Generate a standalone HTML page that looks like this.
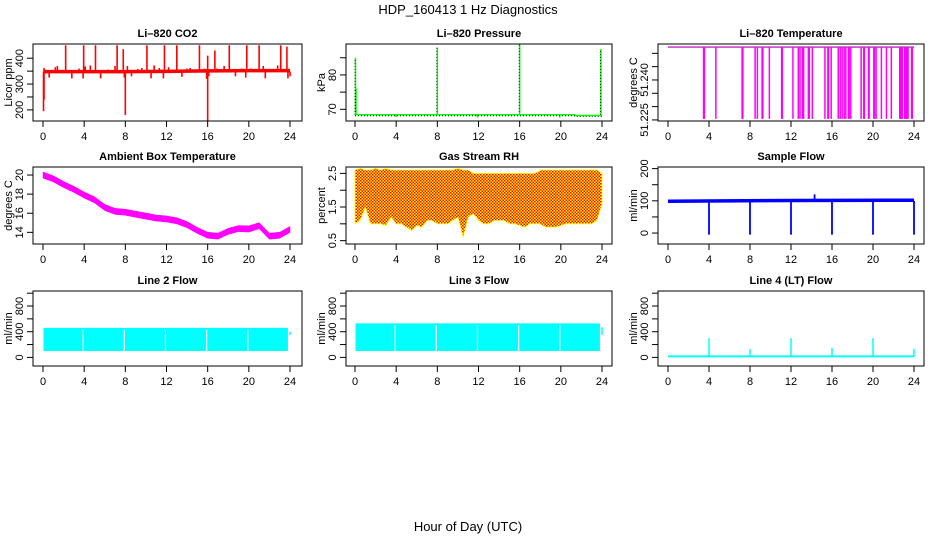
<!DOCTYPE html>
<html><head><meta charset="utf-8"><style>
html,body{margin:0;padding:0;background:#fff;}
svg{display:block;font-family:"Liberation Sans",Arial,sans-serif;}
</style></head><body>
<svg id="c" width="936" height="540" viewBox="0 0 936 540">
<text x="468" y="14" font-size="13" text-anchor="middle">HDP_160413  1 Hz Diagnostics</text>
<text x="468" y="531" font-size="13" text-anchor="middle">Hour of Day (UTC)</text>
</svg>
<script>
// ---- data ----
const xTicks = [0,4,8,12,16,20,24];
// CO2
const co2BaseHours = [0.05,4,8,12,16,20,24];
const co2BaseVals = [348,348,348,349,351,352,352];
const co2Spikes = [[0.05,195],[0.1,240],[0.1,362],[0.6,325],[1.2,365],[1.4,370],[2.2,450],[2.8,322],[3.5,360],[3.95,450],[3.9,322],[4.1,368],[4.6,372],[5.1,450],[5.6,322],[6.3,356],[7.0,370],[7.2,450],[7.8,435],[7.9,325],[8.0,180],[8.2,370],[8.6,330],[9.2,358],[9.6,362],[10.1,450],[10.5,322],[10.8,372],[11.3,362],[11.8,450],[11.7,322],[12.2,365],[13.0,450],[13.5,328],[14.0,360],[14.3,362],[15.2,450],[15.7,360],[16.0,410],[16.0,157],[15.9,320],[16.1,330],[16.7,430],[16.9,360],[17.6,370],[18.1,450],[18.7,330],[19.3,360],[19.8,450],[19.7,325],[20.2,360],[21.0,450],[21.4,370],[21.6,322],[22.1,358],[22.8,372],[23.1,450],[23.7,445],[23.8,322],[24.0,330]];
// Pressure
const presBaseHours = [0,12,21.3,21.4,24];
const presBaseVals = [68.4,68.4,68.4,68.2,68.2];
const presSpikes = [[0.05,85],[0.1,76],[8.0,88],[16.0,89],[23.9,87.6],[4,67.8],[11.9,67.6],[19.9,67.6]];
// Li-820 temperature
const tempTop = 51.2523;
const tempDrops = [3.47,3.55,4.67,7.23,7.3,8.50,8.72,9.18,9.25,9.89,11.09,11.15,12.19,12.71,12.88,13.10,13.23,13.69,13.78,14.08,15.31,15.60,15.66,15.92,16.61,16.80,16.99,17.19,17.35,17.61,17.68,17.84,18.84,19.10,19.16,19.56,19.62,20.08,20.14,20.30,20.82,21.31,21.79,22.61,22.68,22.77,22.86,23.09,23.15,23.25,23.35,23.42,23.77,23.83];
const tempBottom = 51.2254;
// Ambient
const ambHours = [0,1,2,3,4,5,6,7,8,9,10,11,12,13,14,15,16,17,18,19,20,21,22,23,24];
const ambVals = [20.0,19.6,19.0,18.5,17.9,17.4,16.6,16.2,16.1,15.9,15.7,15.5,15.4,15.2,14.8,14.2,13.7,13.6,14.1,14.4,14.35,14.7,13.6,13.7,14.3];
// RH
const rhHours = [0,0.5,1,1.5,2,2.5,3,3.5,4,4.5,5,5.5,6,6.5,7,7.5,8,8.5,9,9.5,10,10.5,11,11.5,12,12.5,13,13.5,14,14.5,15,15.5,16,16.5,17,17.5,18,18.5,19,19.5,20,20.5,21,21.5,22,22.5,23,23.5,24];
const rhLow = [1.0,1.1,1.5,1.0,1.0,1.0,0.95,1.2,1.0,1.0,0.9,0.8,0.95,0.9,1.1,1.1,1.0,1.0,1.0,1.1,1.2,0.6,1.2,1.3,1.1,1.0,1.0,1.1,1.1,1.1,1.0,1.0,0.95,0.9,1.0,1.0,1.0,0.9,0.9,0.9,0.95,1.0,1.0,1.0,1.0,1.0,1.0,1.1,1.6];
const rhHigh = [2.6,2.65,2.6,2.6,2.65,2.6,2.65,2.6,2.6,2.6,2.6,2.6,2.6,2.6,2.6,2.6,2.6,2.6,2.6,2.6,2.65,2.6,2.6,2.5,2.5,2.5,2.5,2.5,2.5,2.5,2.5,2.5,2.5,2.5,2.5,2.5,2.6,2.6,2.6,2.6,2.6,2.6,2.6,2.6,2.6,2.6,2.6,2.6,2.5];
// Sample flow
const sfBaseHours = [0,12,24];
const sfBaseVals = [99,101,102];
const sfSpikes = [[4,-5],[8,-5],[12,-5],[16,-5],[20,-5],[24,-5],[14.3,120]];
// Line flows
const l2Low = 100, l2High = 460;
const l2Gaps = [3.9,7.9,11.9,15.9,19.9];
const l3Low = 100, l3High = 530;
const l3Gaps = [3.9,7.9,11.9,15.9,19.9];
const l4Base = 15;
const l4Spikes = [[4,300],[8,130],[12,300],[16,150],[20,300],[24,130]];

const NS = "http://www.w3.org/2000/svg";
const svg = document.getElementById('c');
function mk(tag, attrs, parent){ const e=document.createElementNS(NS,tag); for(const k in attrs) e.setAttribute(k,attrs[k]); (parent||svg).appendChild(e); return e; }

function panel(p){
  const g = mk('g',{});
  
  
  const X = h => p.x0 + (h/24)*(p.x24-p.x0);
  const Y = v => p.b - (v-p.ymin)/(p.ymax-p.ymin)*(p.b-p.t);
  p.draw(g, X, Y);
  const box = mk('rect',{x:p.l,y:p.t,width:p.r-p.l,height:p.b-p.t,fill:'none',stroke:'#000','stroke-width':1},g);
  
  
  const ttl = mk('text',{x:(p.l+p.r)/2,y:p.t-7,'font-size':11,'font-weight':'bold','text-anchor':'middle'},g);
  ttl.textContent = p.title;
  
  
  const xa = mk('g',{},g);
  
  
  xTicks.forEach(h=>{
    mk('line',{x1:X(h),x2:X(h),y1:p.b,y2:p.b+6,stroke:'#000'},xa);
    const t=mk('text',{x:X(h),y:p.b+19,'font-size':11,'text-anchor':'middle'},xa);
    t.textContent=h;
    
    
  });
  const ya = mk('g',{},g);
  
  
  p.yticks.forEach(v=>{
    mk('line',{x1:p.l-6,x2:p.l,y1:Y(v),y2:Y(v),stroke:'#000'},ya);
  });
  p.ylabels.forEach(v=>{
    const t=mk('text',{x:0,y:0,'font-size':11,'text-anchor':'middle',transform:`translate(${p.l-10},${Y(v)}) rotate(-90)`},ya);
    t.textContent = p.fmt? p.fmt(v): v;
    
    
  });
  const yt=mk('text',{x:0,y:0,'font-size':11,'text-anchor':'middle',transform:`translate(${p.l-21},${(p.t+p.b)/2}) rotate(-90)`},g);
  yt.textContent=p.ytitle;
  
  
}
function linePath(hs, vs, X, Y){ return hs.map((h,i)=>(i?'L':'M')+X(h).toFixed(1)+' '+Y(vs[i]).toFixed(1)).join(' '); }

const C1={l:33,r:302,x0:43,x24:290}, C2={l:346,r:612,x0:355,x24:602}, C3={l:658,r:924,x0:668,x24:914};
const R1={t:44,b:121}, R2={t:167,b:244}, R3={t:291,b:366};
function range(a,b,s){const o=[];for(let v=a;v<=b+1e-9;v+=s)o.push(+v.toFixed(4));return o;}

panel(Object.assign({name:'co2-panel',title:'Li\u2013820 CO2',ytitle:'Licor ppm',ymin:157,ymax:455,yticks:range(200,400,50),ylabels:[200,300,400],
 draw(g,X,Y){
  co2Spikes.forEach(s=>{const e=mk('line',{x1:X(s[0]),x2:X(s[0]),y1:Y(348),y2:Y(s[1]),stroke:'#f00','stroke-width':1.6},g);
   });
  const e=mk('path',{d:linePath(co2BaseHours,co2BaseVals,X,Y),stroke:'#f00','stroke-width':3.5,fill:'none'},g);
  
 }},C1,R1));

panel(Object.assign({name:'pressure-panel',title:'Li\u2013820 Pressure',ytitle:'kPa',ymin:66.6,ymax:89,yticks:[70,75,80,85],ylabels:[70,80],
 draw(g,X,Y){
  presSpikes.forEach(s=>{const e=mk('line',{x1:X(s[0]),x2:X(s[0]),y1:Y(68.4),y2:Y(s[1]),stroke:'#0f0','stroke-width':1.5},g);
   
   mk('line',{x1:X(s[0])-0.5,x2:X(s[0])-0.5,y1:Y(68.4),y2:Y(s[1]),stroke:'#000','stroke-width':0.8,'stroke-dasharray':'1 2'},g);});
  const e=mk('path',{d:linePath(presBaseHours,presBaseVals,X,Y),stroke:'#0f0','stroke-width':1.5,fill:'none'},g);
  
  mk('path',{d:linePath(presBaseHours,presBaseVals.map(v=>v-0.3),X,Y),stroke:'#000','stroke-width':0.8,fill:'none','stroke-dasharray':'1 2'},g);
 }},C2,R1));

panel(Object.assign({name:'li820-temperature-panel',title:'Li\u2013820 Temperature',ytitle:'degrees C',ymin:51.2246,ymax:51.2535,yticks:range(51.225,51.250,0.005),ylabels:[51.225,51.24],fmt:v=>v.toFixed(3),
 draw(g,X,Y){
  tempDrops.forEach(h=>{const e=mk('line',{x1:X(h),x2:X(h),y1:Y(tempTop),y2:Y(tempBottom),stroke:'#f0f','stroke-width':1.5},g);
   });
  const e=mk('line',{x1:X(0),x2:X(24),y1:Y(tempTop),y2:Y(tempTop),stroke:'#f0f','stroke-width':1},g);
  
  mk('line',{x1:X(0),x2:X(24),y1:Y(tempTop)-0.6,y2:Y(tempTop)-0.6,stroke:'#555','stroke-width':0.5},g);
 }},C3,R1));

panel(Object.assign({name:'ambient-temperature-panel',title:'Ambient Box Temperature',ytitle:'degrees C',ymin:12.78,ymax:20.84,yticks:[14,16,18,20],ylabels:[14,16,18,20],
 draw(g,X,Y){
  const up=ambHours.map((h,i)=>X(h).toFixed(1)+','+Y(ambVals[i]+0.32).toFixed(1));
  const dn=ambHours.map((h,i)=>X(h).toFixed(1)+','+Y(ambVals[i]-0.32).toFixed(1)).reverse();
  const e=mk('polygon',{points:up.concat(dn).join(' '),fill:'#f0f',stroke:'#f0f','stroke-width':0.5},g);
  
 }},C1,R2));

const defs=mk('defs',{});
const pat=mk('pattern',{id:'rhpat',width:3,height:3,patternUnits:'userSpaceOnUse'},defs);
mk('rect',{x:0,y:0,width:3,height:3,fill:'#ff0'},pat);
mk('rect',{x:0,y:0,width:1.5,height:1.5,fill:'#f00'},pat);
mk('rect',{x:1.5,y:1.5,width:1.5,height:1.5,fill:'#f00'},pat);

panel(Object.assign({name:'rh-panel',title:'Gas Stream RH',ytitle:'percent',ymin:0.40,ymax:2.69,yticks:range(0.5,2.5,0.5),ylabels:[0.5,1.5,2.5],
 draw(g,X,Y){
  const up=rhHours.map((h,i)=>X(h).toFixed(1)+','+Y(rhHigh[i]).toFixed(1));
  const dn=rhHours.map((h,i)=>X(h).toFixed(1)+','+Y(rhLow[i]).toFixed(1)).reverse();
  const e=mk('polygon',{points:up.concat(dn).join(' '),fill:'url(#rhpat)',stroke:'#ff0','stroke-width':0.8},g);
  
 }},C2,R2));

panel(Object.assign({name:'sample-flow-panel',title:'Sample Flow',ytitle:'ml/min',ymin:-34,ymax:205,yticks:range(0,200,50),ylabels:[0,100,200],
 draw(g,X,Y){
  sfSpikes.forEach(s=>{const e=mk('line',{x1:X(s[0]),x2:X(s[0]),y1:Y(100),y2:Y(s[1]),stroke:'#00f','stroke-width':1.8},g);
   });
  const e=mk('path',{d:linePath(sfBaseHours,sfBaseVals,X,Y),stroke:'#00f','stroke-width':3.5,fill:'none'},g);
  
 }},C3,R2));

function bandPanel(name,title,C,low,high,gaps,startH){
 panel(Object.assign({name:name,title:title,ytitle:'ml/min',ymin:-134,ymax:1034,yticks:range(0,1000,200),ylabels:[0,400,800],
  draw(g,X,Y){
   const e=mk('rect',{x:X(startH),y:Y(high),width:X(23.8)-X(startH),height:Y(low)-Y(high),fill:'#0ff'},g);
   
   mk('line',{x1:X(24),x2:X(24),y1:Y(low+250),y2:Y(high-60),stroke:'#0ff','stroke-width':1.5},g);
   gaps.forEach(h=>{const gl=mk('line',{x1:X(h),x2:X(h),y1:Y(high-30),y2:Y(low),stroke:'#fff','stroke-width':1.2},g);
    });
  }},C,R3));
}
bandPanel('line2-flow-panel','Line 2 Flow',C1,l2Low,l2High,l2Gaps,0.05);
bandPanel('line3-flow-panel','Line 3 Flow',C2,l3Low,l3High,l3Gaps,0.05);

panel(Object.assign({name:'line4-flow-panel',title:'Line 4 (LT) Flow',ytitle:'ml/min',ymin:-134,ymax:1034,yticks:range(0,1000,200),ylabels:[0,400,800],
 draw(g,X,Y){
  l4Spikes.forEach(s=>{const e=mk('line',{x1:X(s[0]),x2:X(s[0]),y1:Y(l4Base),y2:Y(s[1]),stroke:'#0ff','stroke-width':1.5},g);
   });
  const e=mk('line',{x1:X(0),x2:X(24),y1:Y(l4Base),y2:Y(l4Base),stroke:'#0ff','stroke-width':2},g);
  
 }},C3,R3));
</script>
</body></html>
